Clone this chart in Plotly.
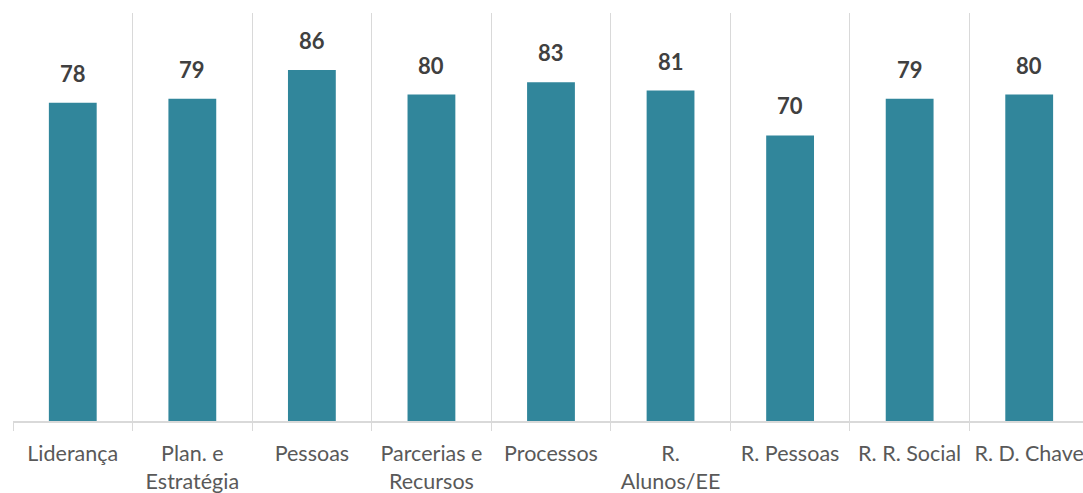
import plotly.graph_objects as go

categories = ["Liderança", "Plan. e<br>Estratégia", "Pessoas", "Parcerias e<br>Recursos",
              "Processos", "R.<br>Alunos/EE", "R. Pessoas", "R. R. Social", "R. D. Chave"]
scores = [78, 79, 86, 80, 83, 81, 70, 79, 80]

BAR_COLOR = "#31869B"
GRID_COLOR = "#D9D9D9"

fig = go.Figure(
    go.Bar(
        x=categories,
        y=scores,
        marker=dict(color=BAR_COLOR, line=dict(width=0)),
        width=0.4,
        hoverinfo="x+y",
    )
)

# value labels floating above each bar
for cat, val in zip(categories, scores):
    fig.add_annotation(
        x=cat, y=val, text=f"<b>{val}</b>", showarrow=False,
        yanchor="bottom", yshift=14,
        font=dict(family="Lato", size=22, color="#404040"),
    )

fig.update_layout(
    width=1083, height=493,
    margin=dict(l=13, r=0, t=13, b=72),
    paper_bgcolor="white", plot_bgcolor="white",
    showlegend=False,
    font=dict(family="Lato", size=21, color="#595959"),
    xaxis=dict(
        type="category",
        range=[-0.5, 8.45],
        tickson="boundaries",
        showgrid=True, gridcolor=GRID_COLOR, gridwidth=1.3,
        showline=True, linecolor=GRID_COLOR, linewidth=2,
        ticks="outside", ticklen=8, tickcolor=GRID_COLOR, tickwidth=1.3,
        ticklabelstandoff=12,
        tickfont=dict(family="Lato", size=21.5, color="#595959"),
        fixedrange=True,
    ),
    yaxis=dict(
        range=[0, 100], visible=False, showgrid=False, zeroline=False,
        fixedrange=True,
    ),
)

fig.write_html("out.html")
